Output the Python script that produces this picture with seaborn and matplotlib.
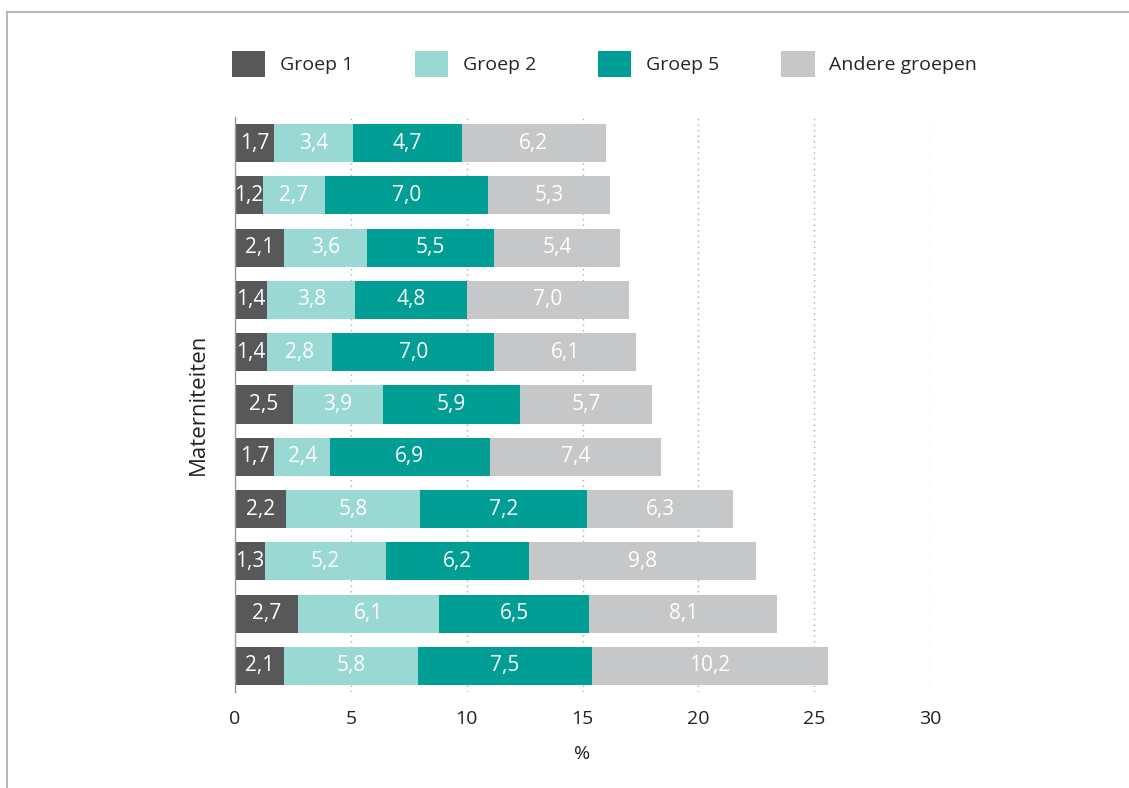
import numpy as np
import pandas as pd
import matplotlib
matplotlib.use("Agg")
import matplotlib.pyplot as plt
from matplotlib.lines import Line2D
from matplotlib.patches import Patch
import seaborn as sns

sns.set_theme(style="white")
plt.rcParams["font.family"] = ["Open Sans", "DejaVu Sans"]

# data, top row first
rows = [str(i) for i in range(1, 12)]
groep1 = [1.7, 1.2, 2.1, 1.4, 1.4, 2.5, 1.7, 2.2, 1.3, 2.7, 2.1]
groep2 = [3.4, 2.7, 3.6, 3.8, 2.8, 3.9, 2.4, 5.8, 5.2, 6.1, 5.8]
groep5 = [4.7, 7.0, 5.5, 4.8, 7.0, 5.9, 6.9, 7.2, 6.2, 6.5, 7.5]
andere = [6.2, 5.3, 5.4, 7.0, 6.1, 5.7, 7.4, 6.3, 9.8, 8.1, 10.2]

series = ["Groep 1", "Groep 2", "Groep 5", "Andere groepen"]
colors = {"Groep 1": "#58585a", "Groep 2": "#9ad8d4",
          "Groep 5": "#009e94", "Andere groepen": "#c6c7c8"}

df = pd.DataFrame({"rij": rows, "Groep 1": groep1, "Groep 2": groep2,
                   "Groep 5": groep5, "Andere groepen": andere})
cum = df[series].cumsum(axis=1)
left = cum - df[series]

fig = plt.figure(figsize=(11.29, 7.88), dpi=100)
ax = fig.add_axes([235 / 1129, 1 - 692 / 788, 695 / 1129, 575 / 788])

# stacked bars: draw the cumulative totals from largest to smallest
for s in reversed(series):
    sns.barplot(x=cum[s], y=df["rij"], orient="h", color=colors[s],
                width=0.73, saturation=1, linewidth=0, ax=ax, zorder=3)

for s in series:
    for i in range(len(rows)):
        v = df[s].iloc[i]
        ax.text(left[s].iloc[i] + v / 2, i, f"{v:.1f}".replace(".", ","),
                ha="center", va="center", color="white", fontsize=15, zorder=4)

ax.set_xlim(0, 30)
ax.set_ylim(10.5, -0.5)
ax.set_xticks(range(0, 31, 5))
ax.set_yticks([])
ax.tick_params(axis="x", length=0, pad=13, labelsize=14, labelcolor="#222222")
ax.xaxis.grid(True, linestyle=(0, (1, 3)), color="#aaaaaa", linewidth=1, zorder=0)
ax.set_axisbelow(True)
for sp in ["top", "right", "bottom"]:
    ax.spines[sp].set_visible(False)
ax.spines["left"].set_color("#999999")
ax.spines["left"].set_linewidth(1)
ax.spines["left"].set_zorder(5)

ax.set_xlabel("%", fontsize=14, color="#222222", labelpad=12)
ax.set_ylabel("Materniteiten", fontsize=16, color="#222222")
ax.yaxis.set_label_coords(-0.037, 0.5)

handles = [Patch(facecolor=colors[s], edgecolor="none") for s in series]
fig.legend(handles, series, loc="center left", bbox_to_anchor=(232 / 1129, 1 - 64 / 788),
           ncol=4, frameon=False, fontsize=14, handlelength=1.7, handleheight=1.7,
           handletextpad=0.75, columnspacing=3.2, borderpad=0, borderaxespad=0)

# frame lines top and left
fig.add_artist(Line2D([7 / 1129, 1], [1 - 12 / 788, 1 - 12 / 788], color="#aaaaaa", linewidth=1.2))
fig.add_artist(Line2D([7 / 1129, 7 / 1129], [0, 1 - 12 / 788], color="#aaaaaa", linewidth=1.2))

fig.savefig("out.png", dpi=100)
